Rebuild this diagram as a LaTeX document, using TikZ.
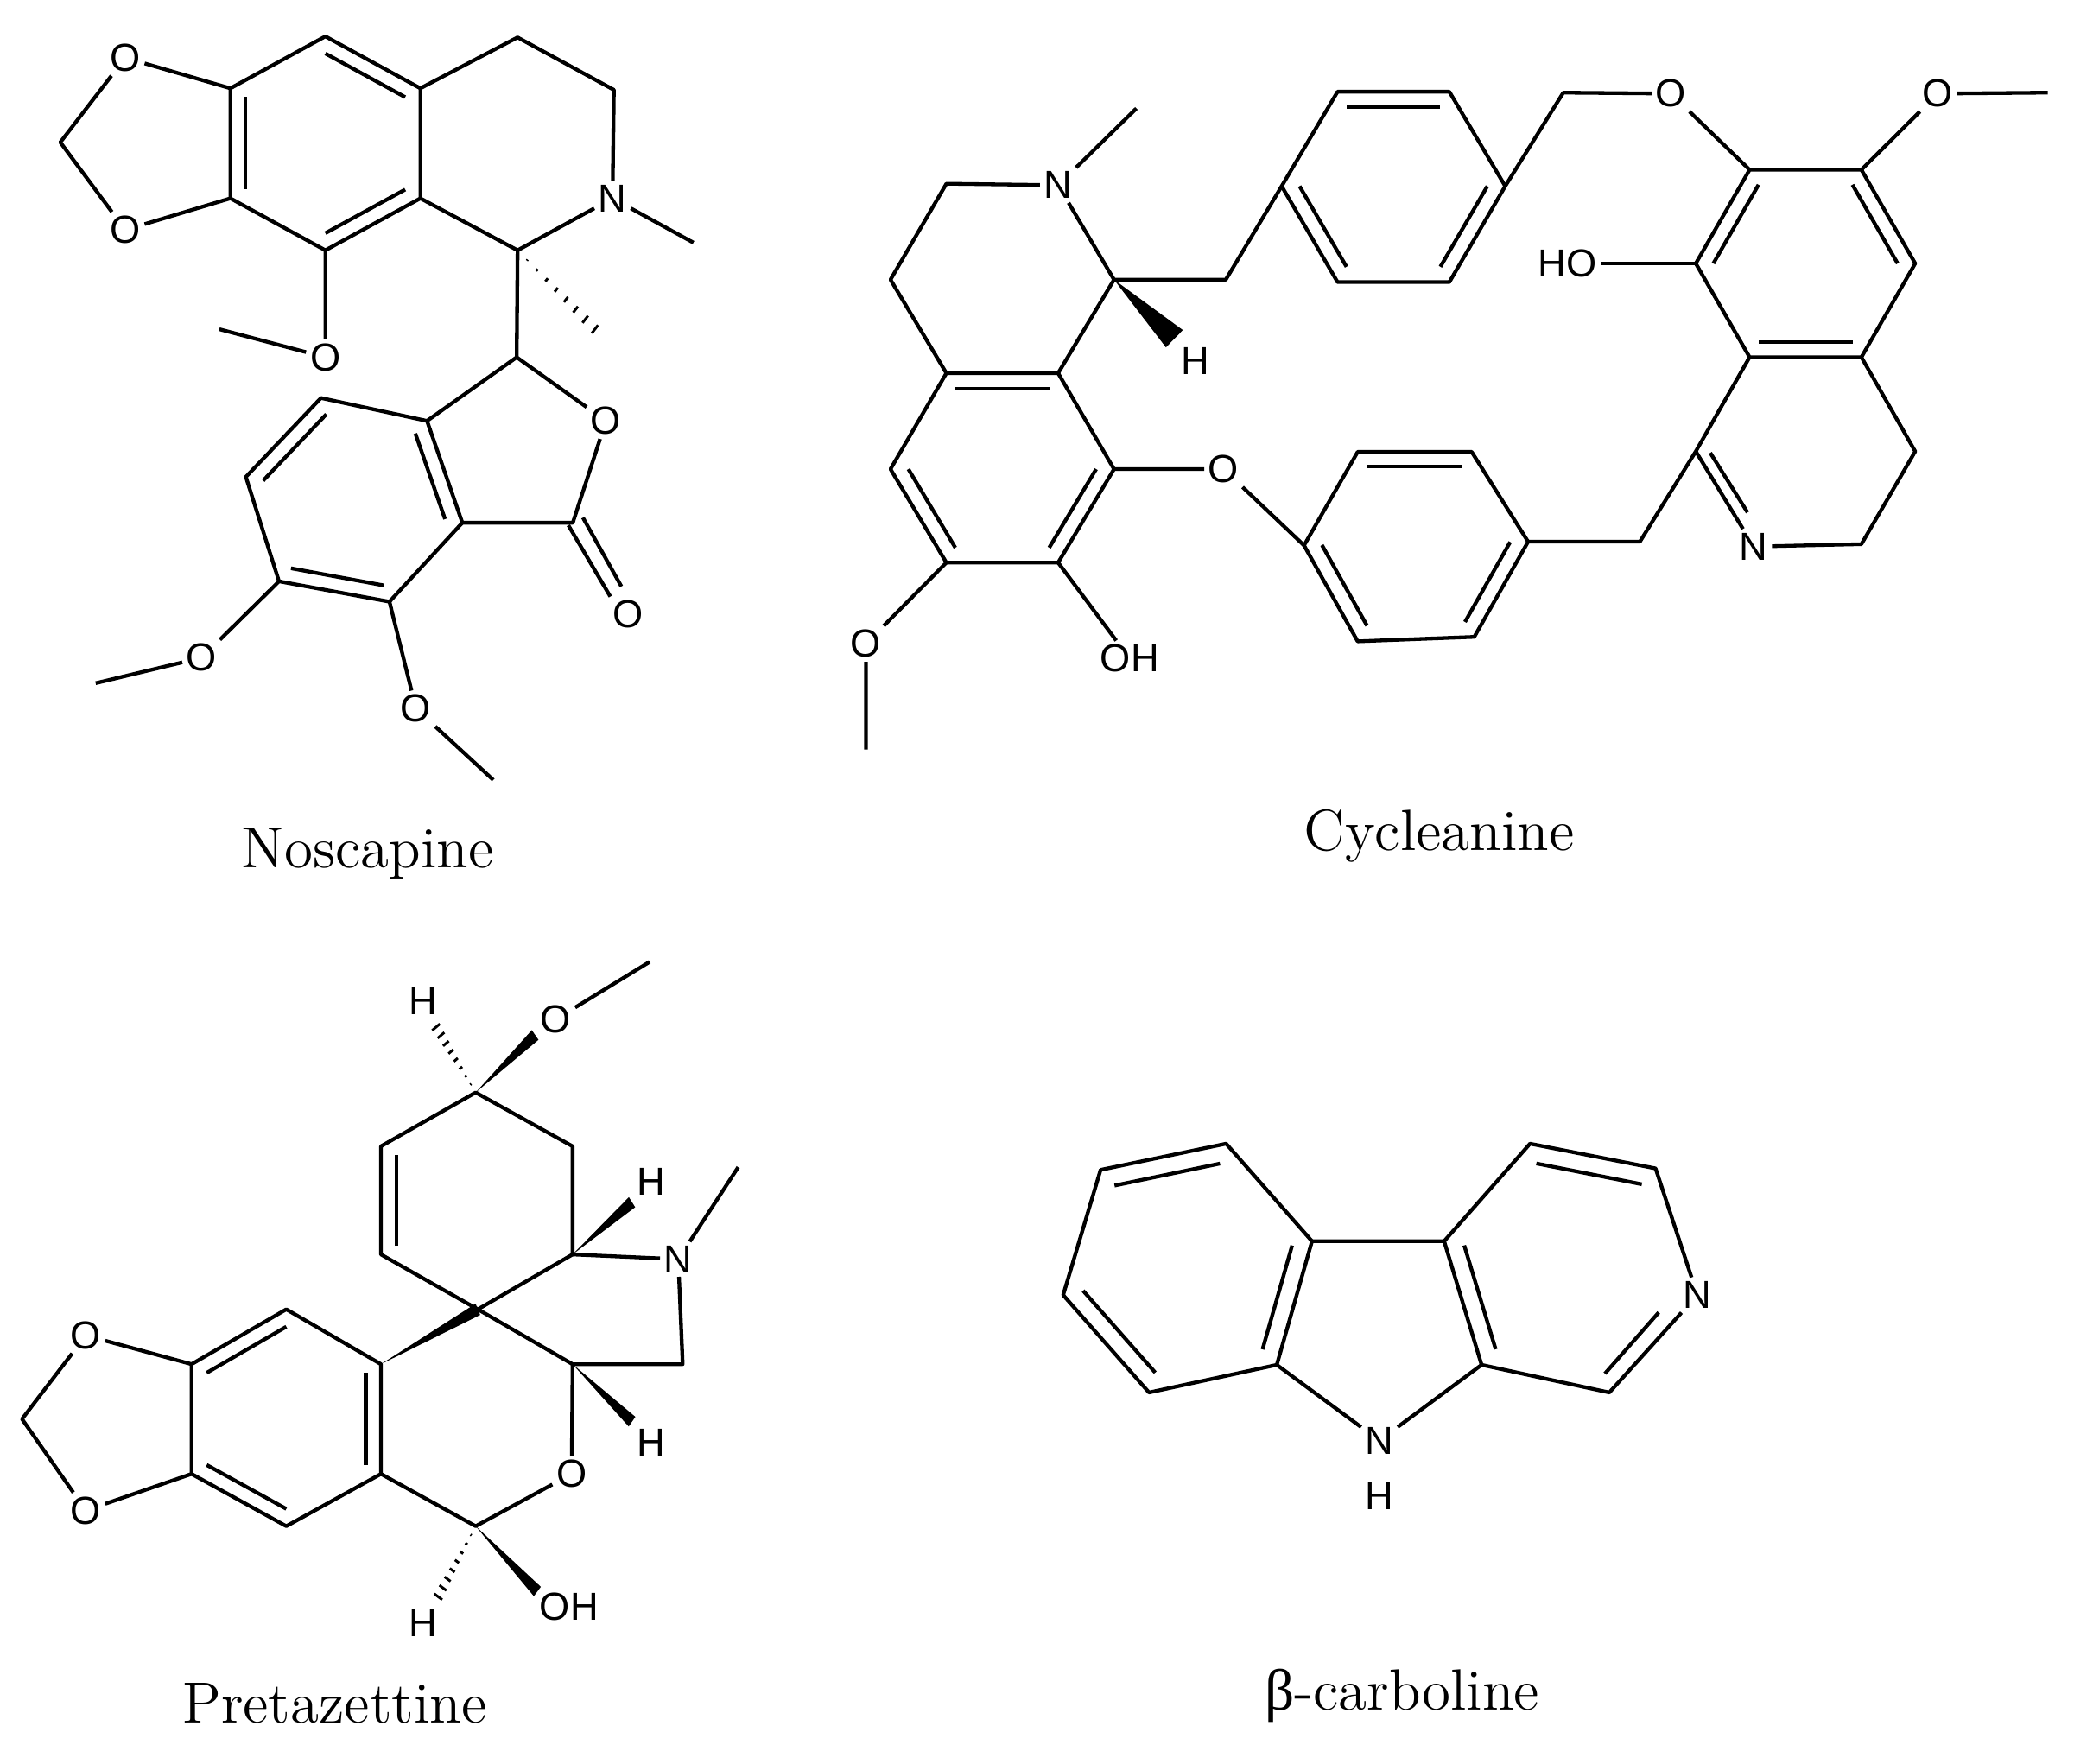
\documentclass[tikz,border=0pt]{standalone}
\usepackage{fontspec}
\newfontfamily\atomsans{Liberation Sans}
\newfontfamily\greekserif{Liberation Serif}
\usetikzlibrary{calc}

\tikzset{
	bond/.style={line width=0.8pt, line join=round},
	atom/.style={font=\atomsans\fontsize{8.4}{9}\selectfont, inner sep=0.7pt},
	molname/.style={font=\fontsize{12.5}{14}\selectfont}
}
% inner line of a double bond, pulled towards the ring centre
\newcommand\dblin[3]{\draw[bond] ($(#1)!0.16!(#3)$) -- ($(#2)!0.16!(#3)$);}
% solid wedge, narrow at #2, wide end half-width #1
\newcommand\wedgeb[3][2.4pt]{\fill (#2) -- ($(#3)!#1!90:(#2)$) -- ($(#3)!#1!-90:(#2)$) -- cycle;}
% hashed wedge, narrow at #1
\newcommand\hashb[2]{\foreach \i [evaluate=\i as \t using \i/8, evaluate=\i as \w using \i*0.38] in {1,...,8}
	{\draw[line width=0.55pt] ($(#1)!\t!(#2)!\w pt!90:(#1)$) -- ($(#1)!\t!(#2)!\w pt!-90:(#1)$);}}

\begin{document}
\begin{tikzpicture}[x=0.01cm, y=-0.01cm]
\useasboundingbox (0,0) rectangle (1568,1333);

% --- Noscapine ---
\begin{scope}[shift={(0.5,4.4)}, xscale=0.334, yscale=0.385]
	\foreach \n/\p in {na1/{735,60}, na2/{950,162}, na3/{950,378}, na4/{735,480}, na5/{520,378}, na6/{520,162},
		nb1/{1170,62}, nb2/{1388,165}, nb4/{1170,480}, nc1/{1168,690}, nCm/{135,268}, nCc/{1295,1015},
		nd1/{965,815}, nd2/{1045,1015}, nd3/{880,1170}, nd4/{630,1130}, nd5/{555,925}, nd6/{725,770},
		nMe1/{1568,465}, nMe2/{495,635}, nMe3/{215,1330}, nMe4/{1115,1520}, nHs/{1345,635},
		nA/{735,270}, nD/{800,970}}
		\coordinate (\n) at (\p);
	\node[atom] (nO1) at (282,102) {O};
	\node[atom] (nO2) at (282,440) {O};
	\node[atom] (nN) at (1385,378) {N};
	\node[atom] (nO3) at (735,690) {O};
	\node[atom] (nO4) at (1370,815) {O};
	\node[atom] (nO5) at (1420,1195) {O};
	\node[atom] (nO6) at (455,1280) {O};
	\node[atom] (nO7) at (940,1380) {O};
	\draw[bond] (na1) -- (na2) -- (na3) -- (na4) -- (na5) -- (na6) -- cycle;
	\draw[bond] (na2) -- (nb1) -- (nb2) -- (nN) -- (nb4) -- (na3);
	\draw[bond] (nN) -- (nMe1);
	\draw[bond] (na6) -- (nO1) -- (nCm) -- (nO2) -- (na5);
	\draw[bond] (na4) -- (nO3) -- (nMe2);
	\draw[bond] (nb4) -- (nc1) -- (nO4) -- (nCc) -- (nd2);
	\draw[bond] (nc1) -- (nd1);
	\draw[bond] (nd1) -- (nd2) -- (nd3) -- (nd4) -- (nd5) -- (nd6) -- cycle;
	\draw[bond] (1285,1020) -- (1380,1160);
	\draw[bond] (1318,1005) -- (1405,1140);
	\draw[bond] (nd4) -- (nO6) -- (nMe3);
	\draw[bond] (nd3) -- (nO7) -- (nMe4);
	\hashb{nb4}{nHs}
	\dblin{na1}{na2}{nA} \dblin{na3}{na4}{nA} \dblin{na5}{na6}{nA}
	\dblin{nd1}{nd2}{nD} \dblin{nd3}{nd4}{nD} \dblin{nd5}{nd6}{nD}
\end{scope}
\node[molname] (nosc) at (278,645) {Noscapine};

% --- Cycleanine ---
\begin{scope}[shift={(612.4,3.1)}, xscale=0.338, yscale=0.372]
	\foreach \n/\p in {cMe1/{730,212}, ch1/{305,365}, ch2/{180,560},
		ce1/{305,750}, ce2/{555,750}, ce3/{680,945}, ce4/{555,1135}, ce5/{305,1135}, ce6/{180,945},
		cC1/{680,560}, cHw/{815,680}, cCH2/{930,560},
		cf1/{1055,370}, cf2/{1180,178}, cf3/{1430,178}, cf4/{1555,370}, cf5/{1430,565}, cf6/{1180,565},
		cg1/{1105,1100}, cg2/{1225,910}, cg3/{1480,910}, cg6/{1225,1295}, cMe2/{125,1515},
		cE/{430,945}, cF/{1305,370}}
		\coordinate (\n) at (\p);
	\node[atom] (cN) at (555,368) {N};
	\node[atom] (cH) at (862,725) {H};
	\node[atom] (cO1) at (925,945) {O};
	\node[atom] (cO2) at (125,1300) {O};
	\node[atom] (cOH) at (715,1330) {OH};
\end{scope}
\begin{scope}[shift={(1078.6,3.6)}, xscale=0.313, yscale=0.369]
	\foreach \n/\p in {cg4/{245,1100}, cg5/{115,1295}, cCH2b/{330,180},
		ck1/{780,338}, ck2/{1050,338}, ck3/{1180,530}, ck4/{1050,722}, ck5/{780,722}, ck6/{650,530},
		cMe3/{1500,180}, cm2/{1180,915}, cm3/{1050,1105}, cm5/{650,915}, cCH2c/{515,1100}, cK/{915,530}}
		\coordinate (\n) at (\p);
	\node[atom] (cO3) at (590,182) {O};
	\node[atom] (cO4) at (1235,182) {O};
	\node[atom] (cHO) at (340,530) {HO};
	\node[atom] (cN2) at (790,1110) {N};
	\draw[bond] (685,918) -- (775,1040);
\end{scope}
\coordinate (cG) at ($(cg1)!0.5!(cg4)$);
\draw[bond] (cN) -- (cMe1);
\draw[bond] (cN) -- (ch1) -- (ch2) -- (ce1);
\draw[bond] (ce1) -- (ce2) -- (ce3) -- (ce4) -- (ce5) -- (ce6) -- cycle;
\draw[bond] (cN) -- (cC1) -- (ce2);
\draw[bond] (cC1) -- (cCH2) -- (cf1);
\draw[bond] (cf1) -- (cf2) -- (cf3) -- (cf4) -- (cf5) -- (cf6) -- cycle;
\draw[bond] (ce3) -- (cO1) -- (cg1);
\draw[bond] (cg1) -- (cg2) -- (cg3) -- (cg4) -- (cg5) -- (cg6) -- cycle;
\draw[bond] (ce5) -- (cO2) -- (cMe2);
\draw[bond] (ce4) -- (cOH);
\wedgeb[2.6pt]{cC1}{cHw}
\draw[bond] (cf4) -- (cCH2b) -- (cO3) -- (ck1);
\draw[bond] (ck1) -- (ck2) -- (ck3) -- (ck4) -- (ck5) -- (ck6) -- cycle;
\draw[bond] (ck2) -- (cO4) -- (cMe3);
\draw[bond] (ck6) -- (cHO);
\draw[bond] (ck4) -- (cm2) -- (cm3) -- (cN2) -- (cm5) -- (ck5);
\draw[bond] (cm5) -- (cCH2c) -- (cg4);
\dblin{ce1}{ce2}{cE} \dblin{ce3}{ce4}{cE} \dblin{ce5}{ce6}{cE}
\dblin{cf2}{cf3}{cF} \dblin{cf4}{cf5}{cF} \dblin{cf6}{cf1}{cF}
\dblin{cg2}{cg3}{cG} \dblin{cg1}{cg6}{cG} \dblin{cg4}{cg5}{cG}
\dblin{ck1}{ck6}{cK} \dblin{ck2}{ck3}{cK} \dblin{ck4}{ck5}{cK}
\node[molname] (cycl) at (1088,632) {Cycleanine};

% --- Pretazettine ---
\begin{scope}[shift={(0,705.4)}, xscale=0.333, yscale=0.395]
	\foreach \n/\p in {pCm/{50,930}, p1/{650,720}, p2/{865,825}, p3/{865,1035}, p4/{650,1135}, p5/{435,1035}, p6/{435,825},
		pQ/{1085,720}, pr1/{865,615}, pr2/{865,408}, pr3/{1080,305}, pr4/{1300,408}, pr5/{1300,615},
		pH1e/{990,180}, pO3w/{1215,195}, pMe1/{1475,55}, pH2w/{1435,515}, pMe2/{1676,448},
		ps1/{1550,825}, ps2/{1300,825}, pH3w/{1435,935}, pt/{1080,1135}, pH4e/{995,1270}, pOHw/{1220,1260},
		pP/{650,928}, pR/{1083,512}}
		\coordinate (\n) at (\p);
	\node[atom] (pO1) at (195,770) {O};
	\node[atom] (pO2) at (195,1105) {O};
	\node[atom] (pH1) at (960,130) {H};
	\node[atom] (pO3) at (1262,165) {O};
	\node[atom] (pH2) at (1478,475) {H};
	\node[atom] (pN) at (1540,624) {N};
	\node[atom] (pH3) at (1478,975) {H};
	\node[atom] (pO4) at (1298,1035) {O};
	\node[atom] (pH4) at (960,1320) {H};
	\node[atom] (pOH) at (1292,1290) {OH};
	\draw[bond] (p1) -- (p2) -- (p3) -- (p4) -- (p5) -- (p6) -- cycle;
	\draw[bond] (p6) -- (pO1) -- (pCm) -- (pO2) -- (p5);
	\wedgeb[3.4pt]{p2}{pQ}
	\draw[bond] (pQ) -- (pr1) -- (pr2) -- (pr3) -- (pr4) -- (pr5) -- (pQ);
	\hashb{pr3}{pH1e}
	\wedgeb[3.4pt]{pr3}{pO3w}
	\draw[bond] (pO3) -- (pMe1);
	\wedgeb[3.4pt]{pr5}{pH2w}
	\draw[bond] (pr5) -- (pN) -- (pMe2);
	\draw[bond] (pN) -- (ps1) -- (ps2) -- (pQ);
	\wedgeb[3.4pt]{ps2}{pH3w}
	\draw[bond] (ps2) -- (pO4) -- (pt) -- (p3);
	\hashb{pt}{pH4e}
	\wedgeb[3.4pt]{pt}{pOHw}
	\dblin{p1}{p6}{pP} \dblin{p2}{p3}{pP} \dblin{p4}{p5}{pP}
	\dblin{pr1}{pr2}{pR}
\end{scope}
\node[molname] (pret) at (253,1288) {Pretazettine};

% --- beta-carboline ---
\begin{scope}[shift={(783.8,836)}, xscale=0.333, yscale=0.22]
	\foreach \n/\p in {bu1/{430,130}, bu2/{145,220}, bu3/{60,650}, bu4/{255,985}, bu5/{545,890}, bu6/{625,465},
		bv1/{925,465}, bv2/{1010,890}, bw1/{1120,130}, bw2/{1405,215}, bw4/{1300,985},
		bU/{343,557}, bW/{1210,555}}
		\coordinate (\n) at (\p);
	\node[atom] (bNH) at (778,1150) {N};
	\node[atom] (bH) at (778,1340) {H};
	\node[atom] (bN) at (1500,650) {N};
	\draw[bond] (bu1) -- (bu2) -- (bu3) -- (bu4) -- (bu5) -- (bu6) -- cycle;
	\draw[bond] (bu6) -- (bv1) -- (bv2);
	\draw[bond] (bu5) -- (bNH) -- (bv2);
	\draw[bond] (bv1) -- (bw1) -- (bw2) -- (bN) -- (bw4) -- (bv2);
	\draw[bond] (1412,710) -- (1290,920);
	\dblin{bu1}{bu2}{bU} \dblin{bu3}{bu4}{bU} \dblin{bu5}{bu6}{bU}
	\dblin{bw1}{bw2}{bW} \dblin{bv1}{bv2}{bW}
\end{scope}
\node[molname] (carb) at (1060,1282) {{\greekserif β}-carboline};
\end{tikzpicture}
\end{document}
